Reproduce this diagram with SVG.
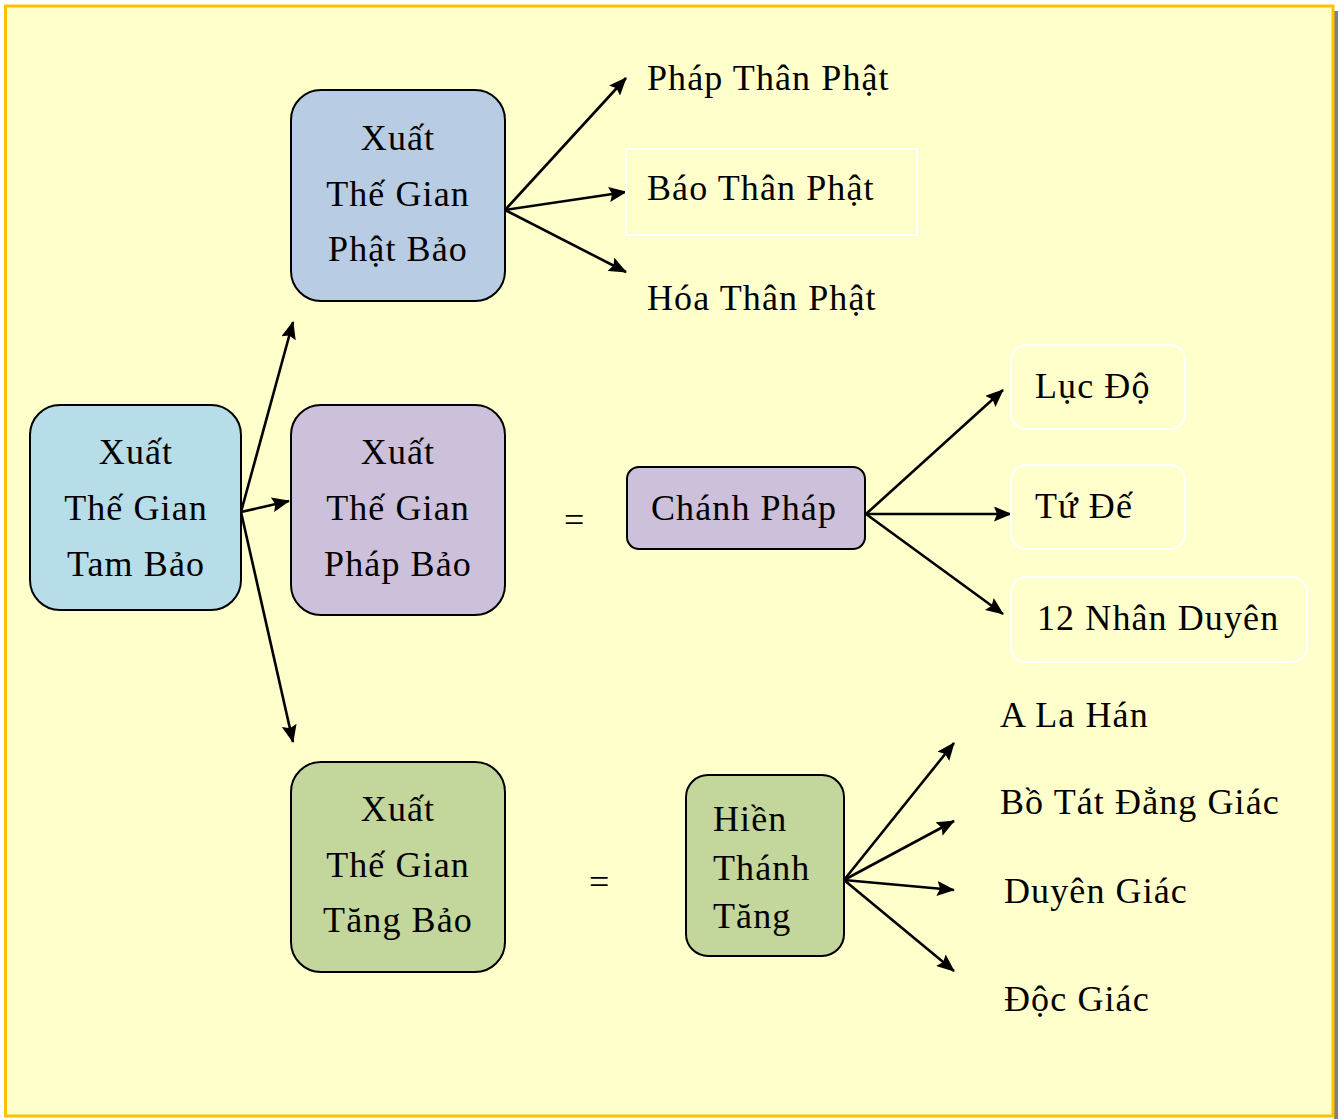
<svg xmlns="http://www.w3.org/2000/svg" width="1338" height="1119" viewBox="0 0 1338 1119">
<style>
text{font-family:"Liberation Serif","Times New Roman",serif;font-size:36px;letter-spacing:1.1px;fill:#000}
.c{text-anchor:middle}
.box{stroke:#000;stroke-width:2}
.wb{fill:none;stroke:#fff;stroke-width:2}
.ar{stroke:#000;stroke-width:2.6;fill:none;marker-end:url(#ah)}
</style>
<defs>
<marker id="ah" markerUnits="userSpaceOnUse" markerWidth="18" markerHeight="15" viewBox="0 0 18 15" refX="17" refY="7.5" orient="auto">
<path d="M0,0 L18,7.5 L0,15 L3,7.5 Z" fill="#000"/>
</marker>
</defs>
<rect x="1334" y="11" width="4" height="1108" fill="#808080"/>
<rect x="5.5" y="6" width="1327.5" height="1110" fill="#FFFFCC" stroke="#FFC000" stroke-width="3"/>

<g id="connectors">
<line class="ar" x1="241" y1="512" x2="293" y2="322"/>
<line class="ar" x1="241" y1="512" x2="289" y2="501"/>
<line class="ar" x1="241" y1="512" x2="293" y2="742"/>
<line class="ar" x1="505" y1="210" x2="626" y2="78"/>
<line class="ar" x1="505" y1="210" x2="626" y2="192"/>
<line class="ar" x1="505" y1="210" x2="626" y2="272"/>
<line class="ar" x1="866" y1="514" x2="1003" y2="390"/>
<line class="ar" x1="866" y1="514" x2="1011" y2="514"/>
<line class="ar" x1="866" y1="514" x2="1003" y2="614"/>
<line class="ar" x1="844" y1="880" x2="954" y2="743"/>
<line class="ar" x1="844" y1="880" x2="954" y2="821"/>
<line class="ar" x1="844" y1="880" x2="954" y2="890"/>
<line class="ar" x1="844" y1="880" x2="954" y2="971"/>
</g>

<g id="tam-bao">
<rect class="box" x="30" y="405" width="211" height="205" rx="30" fill="#B7DDE8"/>
<text class="c" x="136" y="464">Xuất</text>
<text class="c" x="136" y="520">Thế Gian</text>
<text class="c" x="136" y="576">Tam Bảo</text>
</g>

<g id="phat-bao">
<rect class="box" x="291" y="90" width="214" height="211" rx="30" fill="#B8CCE4"/>
<text class="c" x="398" y="150">Xuất</text>
<text class="c" x="398" y="206">Thế Gian</text>
<text class="c" x="398" y="261">Phật Bảo</text>
</g>

<g id="phap-bao">
<rect class="box" x="291" y="405" width="214" height="210" rx="30" fill="#CCC0DA"/>
<text class="c" x="398" y="464">Xuất</text>
<text class="c" x="398" y="520">Thế Gian</text>
<text class="c" x="398" y="576">Pháp Bảo</text>
</g>

<g id="tang-bao">
<rect class="box" x="291" y="762" width="214" height="210" rx="30" fill="#C3D69B"/>
<text class="c" x="398" y="821">Xuất</text>
<text class="c" x="398" y="877">Thế Gian</text>
<text class="c" x="398" y="932">Tăng Bảo</text>
</g>

<g id="eq1"><text x="564" y="532">=</text></g>
<g id="eq2"><text x="589" y="894">=</text></g>

<g id="chanh-phap">
<rect class="box" x="627" y="467" width="238" height="82" rx="12" fill="#CCC0DA"/>
<text x="651" y="520">Chánh Pháp</text>
</g>

<g id="hien-thanh-tang">
<rect class="box" x="686" y="775" width="158" height="181" rx="22" fill="#C3D69B"/>
<text x="713" y="831">Hiền</text>
<text x="713" y="880">Thánh</text>
<text x="713" y="928">Tăng</text>
</g>

<g id="phap-than"><text x="647" y="90">Pháp Thân Phật</text></g>
<g id="bao-than">
<rect class="wb" x="626" y="149" width="291" height="86"/>
<text x="647" y="200">Báo Thân Phật</text>
</g>
<g id="hoa-than"><text x="647" y="310">Hóa Thân Phật</text></g>

<g id="luc-do">
<rect class="wb" x="1011" y="345" width="174" height="84" rx="15"/>
<text x="1035" y="398">Lục Độ</text>
</g>
<g id="tu-de">
<rect class="wb" x="1011" y="465" width="174" height="84" rx="15"/>
<text x="1035" y="518">Tứ Đế</text>
</g>
<g id="nhan-duyen">
<rect class="wb" x="1011" y="577" width="296" height="85" rx="15"/>
<text x="1037" y="630">12 Nhân Duyên</text>
</g>

<g id="a-la-han"><text x="1000" y="727">A La Hán</text></g>
<g id="bo-tat"><text x="1000" y="814">Bồ Tát Đẳng Giác</text></g>
<g id="duyen-giac"><text x="1004" y="903">Duyên Giác</text></g>
<g id="doc-giac"><text x="1004" y="1011">Độc Giác</text></g>
</svg>
